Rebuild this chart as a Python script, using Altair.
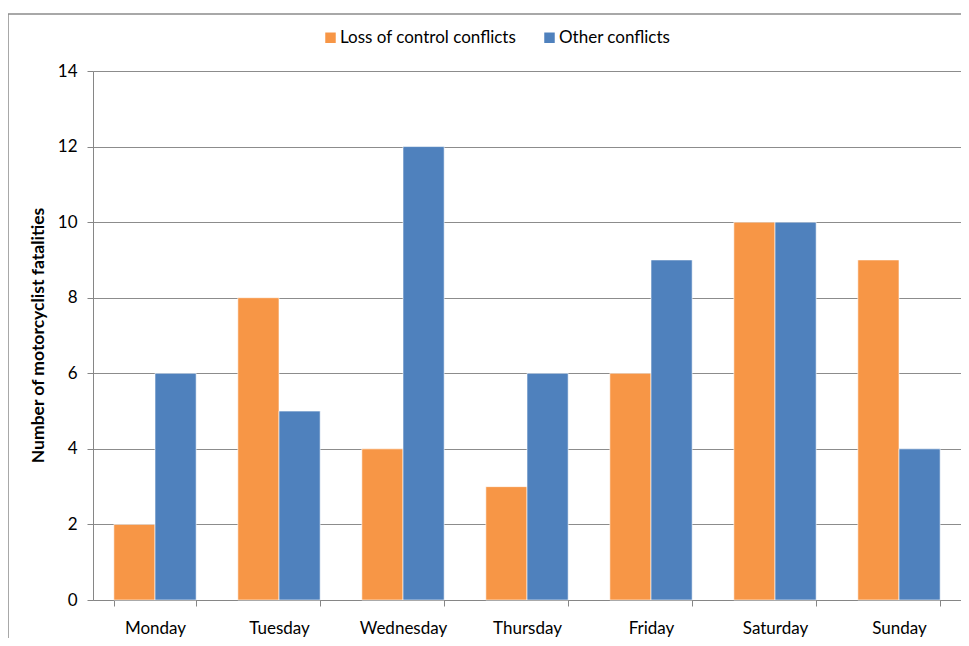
import altair as alt
import pandas as pd

days = ["Monday", "Tuesday", "Wednesday", "Thursday", "Friday", "Saturday", "Sunday"]
series = ["Loss of control conflicts", "Other conflicts"]
loss_of_control = [2, 8, 4, 3, 6, 10, 9]
other = [6, 5, 12, 6, 9, 10, 4]
colors = ["#F79646", "#4F81BD"]

rows = []
for d, a, b in zip(days, loss_of_control, other):
    rows.append({"day": d, "series": series[0], "value": a})
    rows.append({"day": d, "series": series[1], "value": b})
df = pd.DataFrame(rows)

FONT = "Lato"

bars = alt.Chart(df).mark_bar(stroke="white", strokeWidth=0.6).encode(
    x=alt.X("day:N", sort=days,
            scale=alt.Scale(paddingInner=0.336, paddingOuter=0.168),
            axis=alt.Axis(title=None, labelAngle=0, tickBand="extent", grid=False,
                          domainColor="#868686", tickColor="#868686", tickSize=6,
                          labelPadding=14, labelFontSize=17, labelColor="#000000",
                          labelFont=FONT)),
    xOffset=alt.XOffset("series:N", sort=series, scale=alt.Scale(paddingInner=0, paddingOuter=0)),
    y=alt.Y("value:Q", scale=alt.Scale(domain=[0, 14], nice=False),
            axis=alt.Axis(values=[0, 2, 4, 6, 8, 10, 12, 14], title="Number of motorcyclist fatalities",
                          grid=True, gridColor="#8c8c8c", domainColor="#868686", tickColor="#868686",
                          tickSize=6, labelPadding=10, labelFontSize=17, labelColor="#000000",
                          labelFont=FONT, titleFont=FONT, titleFontSize=17.5, titleFontWeight="bold",
                          titleX=-55, titleY=264, titleAngle=-90, titleAlign="center",
                          titleBaseline="middle")),
    color=alt.Color("series:N", sort=series, scale=alt.Scale(domain=series, range=colors),
                    legend=alt.Legend(title=None, orient="none", direction="horizontal",
                                      legendX=229, legendY=-42, symbolType="square",
                                      symbolSize=110, symbolStrokeWidth=0, labelFontSize=17,
                                      labelFont=FONT, labelColor="#000000", columnPadding=24,
                                      labelOffset=1, labelLimit=400)),
)

frame = alt.Chart(pd.DataFrame({"a": [0]})).mark_rect(filled=False, stroke="#8c8c8c", strokeWidth=1.5).encode(
    x=alt.value(-85), x2=alt.value(1000), y=alt.value(-57), y2=alt.value(700)
)

chart = alt.layer(frame, bars).properties(
    width=868, height=529,
    autosize=alt.AutoSizeParams(type="none"),
    padding={"left": 85, "top": 63, "right": 0, "bottom": 38},
).configure_view(stroke=None).configure(background="white")

chart.save("out.html", embed_options={"renderer": "svg", "actions": False})
